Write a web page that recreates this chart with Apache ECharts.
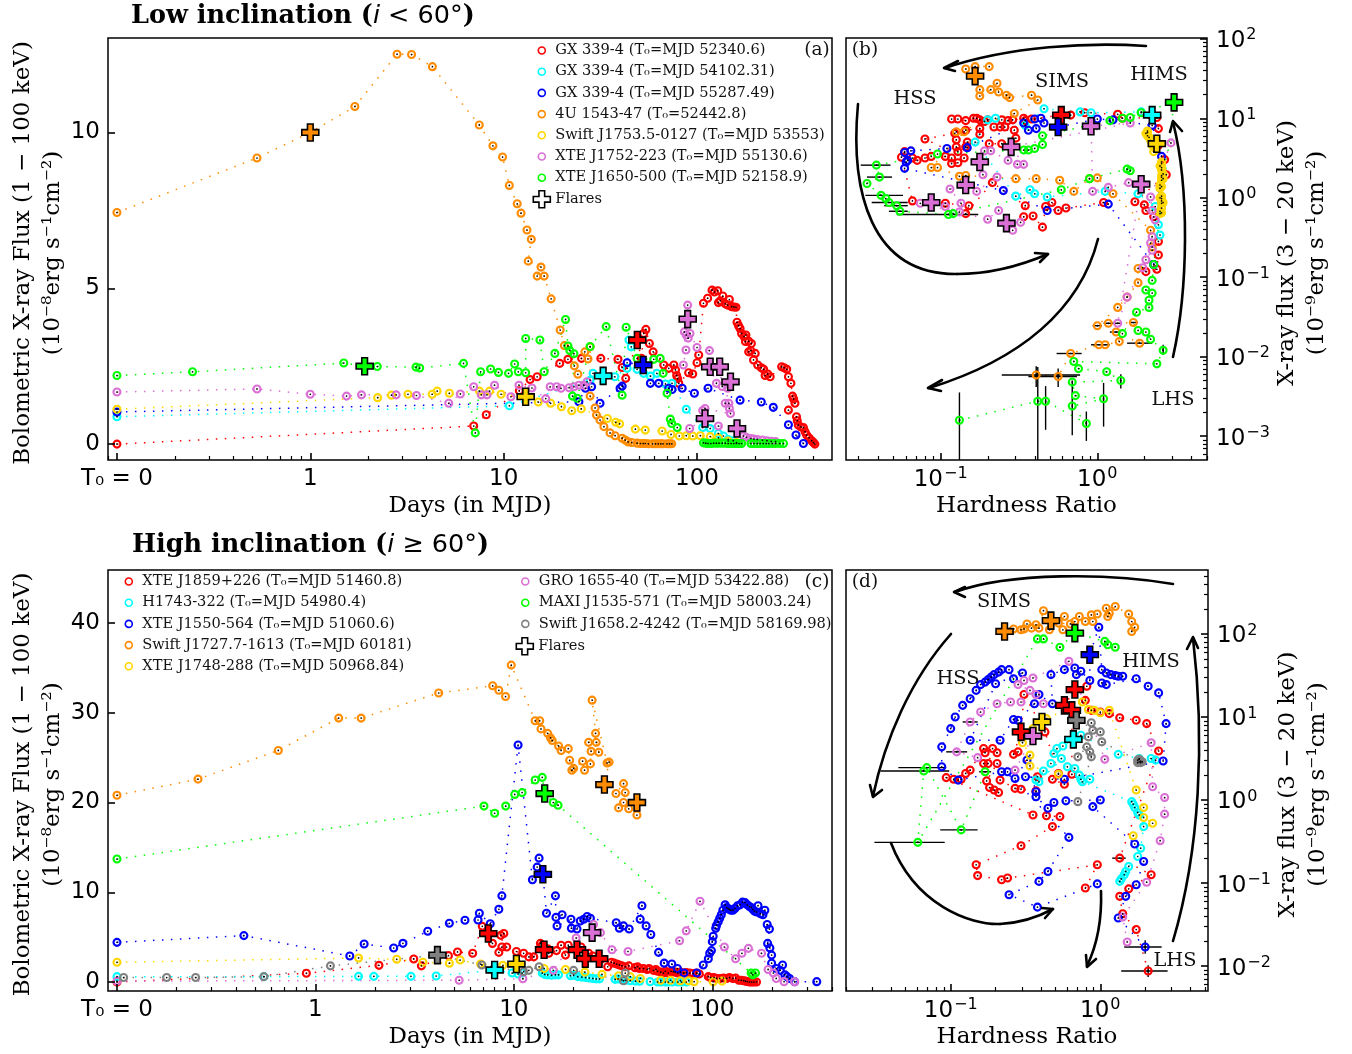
<!DOCTYPE html>
<html><head><meta charset="utf-8">
<style>html,body{margin:0;padding:0;background:#fff}#c{width:1352px;height:1054px}</style>
<script src="https://cdn.jsdelivr.net/npm/echarts@6/dist/echarts.min.js"></script>
</head><body><div id="c"></div>
<script>
// ---------- Panel (a): [days since T0, bolometric flux]; T0 is drawn at 0.1
const aRed=[[0.1,0],[7,.58],[8.13,.94],[12.05,1.71],[13.7,2.07],[14.9,2.16],[19.5,2.59],[21.5,2.72],[25.3,2.75],[31.8,2.75],[39,2.72],[41,2.46],[42.8,2.11],[49.1,3.34],[51.6,2.75],[53,3.55],[54.4,3.68],[56.7,3.23],[59.3,2.96],[67.3,2.54],[71.4,2.43],[75.9,2.54],[77.4,2.38],[78.5,2.2],[79.4,2.1],[80.5,1.95],[90.5,2.29],[95,2.25],[100,2.61],[102,2.86],[108,4.52],[113.5,4.68],[119.6,4.94],[123,4.88],[128,4.92],[129,4.54],[132,4.6],[136,4.75],[140,4.5],[144,4.46],[147,4.64],[151,4.41],[155,4.4],[159,4.39],[161,3.91],[164,3.8],[167,3.71],[170,3.55],[175,3.45],[179,3.5],[178,3.29],[185,3.3],[191,3.23],[185,2.96],[190,3],[200,2.91],[196,2.7],[206,2.54],[215,2.45],[221,2.4],[225,2.2],[232,2.25],[239,2.16],[274,2.48],[282,2.45],[291,2.4],[297,2.16],[306,1.95],[312,1.54],[316,1.45],[321,1.31],[297,1.09],[327,.88],[330,.75],[334,.61],[345,.55],[355,.53],[362,.4],[369,.29],[380,.2],[392,.11],[400,.05],[407,0]];
const aRedFlares=[[49.1,3.34]];
const aCyan=[[0.1,.88],[10.7,1.23],[28,2.05],[29,2.27],[32.7,2.19],[37.6,2.16],[43.5,2.43],[44.5,3.34],[45.7,3.12],[49,2.4],[53,2.27],[57.5,2.18],[62,2.27],[68.7,1.93],[74.3,1.95],[88,1.12],[107,.53],[117,.5],[129,.34],[137,.26],[145,.15],[154,.11]];
const aCyanFlares=[[32.7,2.19]];
const aBlue=[[0.1,1.03],[24.5,1.36],[26.5,1.79],[28.5,1.84],[31.5,1.31],[40,1.79],[41,1.86],[43.5,2.61],[52.7,2.54],[57.4,1.95],[63.4,1.95],[71.4,1.79],[74.3,1.75],[83.8,1.79],[96.9,1.63],[114,1.79],[167,1.41],[215,1.35],[248,1.18],[297,.62],[325,.29],[355,.02]];
const aBlueFlares=[[52.7,2.54]];
const aOrange=[[0.1,7.43],[.53,9.18],[1,10],[1.7,10.83],[2.81,12.51],[3.34,12.5],[4.28,12.11],[7.48,10.24],[8.8,9.57],[9.87,9.21],[10.7,8.3],[11.75,7.71],[12.3,7.41],[13.2,6.87],[13.9,6.57],[13.4,5.87],[15.6,5.68],[14.9,5.39],[16.2,5.39],[17.6,4.66],[19.6,3.66],[20.6,3.16],[23.2,2.51],[24.2,2.24],[26.3,2.96],[27.3,2.73],[28,3.12],[28,1.54],[29.7,1.16],[30.2,.93],[31.5,.77],[33,.56],[35.5,.36],[37.7,.27],[41,.19],[42.5,.13],[44,.07],[46,.05],[49,.03],[51,.02],[52.7,.02],[54,.02],[56,.01],[59,.01],[61,.01],[63,.01],[65,.01],[66.7,.01],[70,.01],[72,.01],[74,.01]];
const aOrangeFlares=[[1,10]];
const aGold=[[0.1,1.12],[2.23,1.49],[2.63,1.57],[3.2,1.6],[4.27,1.6],[4.53,1.7],[5.24,1.63],[7.5,1.7],[8.46,1.7],[9.7,1.6],[13,1.52],[15.1,1.35],[17.5,1.31],[19.9,1.2],[22.5,1.07],[25.2,1.13],[34.4,.82],[38,.7],[39.8,.65],[48,.48],[54,.45],[66,.42],[73.4,.31],[81,.26],[88,.27],[95,.26],[104,.27],[117,.24],[129,.2],[145,.1],[160,.05]];
const aGoldFlares=[[13,1.52]];
const aOrchid=[[0.1,1.67],[.53,1.77],[1,1.6],[1.54,1.54],[1.84,1.58],[2.78,1.58],[3.54,1.56],[5.2,1.31],[5.97,1.61],[7,1.84],[7.66,1.58],[8.2,1.58],[8.97,1.89],[10.9,1.52],[12,1.89],[14,1.8],[16.5,1.46],[17.4,1.84],[18.8,1.84],[19.8,1.79],[21.8,1.81],[23.1,1.84],[24.5,1.89],[26,1.89],[27,2],[85,2.54],[87.7,3.02],[86,3.6],[88,3.5],[89.5,4.46],[89.5,4.01],[90,3.4],[92,3.55],[100,3.1],[116,3],[117,2.48],[126,1.95],[131,2.48],[135,1.85],[144,1.79],[149,2],[140,1.31],[146,1.31],[147,1.15],[149,.98],[110,1.14],[107,1.08],[110,.82],[91.6,.5],[129,.58],[161,.5],[174,.26],[180,.22],[190,.18],[197,.16],[205,.15],[218,.13],[230,.11],[242,.09],[255,.08]];
const aOrchidFlares=[[89.5,4.01],[117,2.48],[131,2.48],[149,2],[110,.82],[161,.5]];
const aLime=[[0.1,2.2],[.246,2.32],[1.49,2.6],[1.91,2.5],[2.22,2.49],[3.52,2.47],[3.68,2.44],[6.2,2.59],[7.13,.36],[7.6,2.32],[8.56,2.41],[9.4,2.3],[10.6,2.27],[11.4,2.57],[11.9,2.32],[13,2.29],[13,3.39],[15.4,3.34],[16.2,2.32],[18.4,2.91],[20.9,4],[21.5,3.15],[22,3],[23.1,2.9],[22.7,1.54],[24,1.47],[28,3.13],[33.9,3.77],[41,1.57],[43,3.75],[49,2.75],[59.7,2.72],[64.5,2.75],[66.8,2.27],[70,1.63],[72.8,.8],[74,.66],[79,.53],[108,.04],[111,.03],[114,.02],[118,.02],[122,.03],[126,.03],[130,.03],[135,.03],[140,.03],[145,.02],[150,.02],[155,.02],[160,.02],[165,.02],[170,.02],[190,.02],[197,.02],[205,.02],[212,.02],[220,.02],[228,.02],[235,.02],[245,.02],[255,.02],[268,.02],[280,.02]];
const aLimeFlares=[[1.91,2.5]];

// ---------- Panel (b): [log10 hardness ratio, log10 X-ray flux]
const bRed=[[.31,-.93],[.38,-.9],[.39,-.72],[.39,-.55],[.36,-.24],[.31,-.16],[.3,-.09],[.24,-.05],[.44,.29],[.43,.48],[.39,.66],[.39,.87],[.38,1.01],[.16,1],[.13,1.05],[-.08,1.07],[-.17,1.04],[-.23,1.04],[-.42,.99],[-.46,.97],[-.47,1],[-.54,.98],[-.57,.97],[-.61,.98],[-.7,.98],[-.72,.96],[-.75,.98],[-.77,1],[-.79,1],[-.84,.97],[-.89,.99],[-.93,.99],[-.84,.85],[-.75,.87],[-.75,.8],[-.66,.89],[-.62,.89],[-.59,.89],[-.53,.85],[-.52,.75],[-.61,.68],[-.69,.68],[-.83,.7],[-.84,.64],[-.89,.58],[-.9,.64],[-.9,.73],[-.91,.81],[-1.1,.74],[-.85,.5],[-.89,.44],[-.93,.43],[-.93,.5],[-.97,.52],[-1.06,.52],[-1.1,.5],[-1.15,.47],[-1.18,.5],[-1.23,.58],[-1.25,.51],[-1.18,-.04],[-.97,-.07],[-.82,-.1],[-.84,-.2],[-.67,.19],[-.46,-.1],[-.47,-.24],[-.41,-.23],[-.35,-.37],[-.33,-.11],[-.29,-.06],[-.25,-.16],[-.2,-.13],[.04,-.06]];
const bRedFlares=[[-.23,1.04]];
const bCyan=[[.35,1.04],[.28,1.08],[-.04,1.07],[-.11,1.08],[-.34,1.12],[-.46,.91],[-.65,1],[-.7,.98],[-.78,.7],[-.52,.02],[-.43,.1],[-.4,.05],[-.32,.01],[.05,.08],[.26,.05],[.37,-.11],[.39,-.34],[.4,-.47]];
const bCyanFlares=[[.35,1.04]];
const bBlue=[[.36,-.84],[.41,.52],[.35,.91],[.1,.98],[0,.99],[-.25,.89],[-.34,.94],[-.36,1],[-.4,.99],[-.39,.87],[-.44,.85],[-.47,.94],[-.83,.63],[-.96,.62],[-1.19,.59],[-1.23,.57],[-1.22,.45],[-1.21,.47],[-1.23,.37],[-.6,.09],[-.32,-.16],[.07,-.08],[.36,-.84]];
const bBlueFlares=[[-.25,.89]];
const bOrange=[[-.39,-2.23],[-.25,-2.25],[-.17,-1.96],[.01,-1.85],[.05,-1.85],[.14,-1.81],[.12,-1.69],[.27,-1.83],[.23,-1.57],[.07,-1.58],[0,-1.61],[.13,-1.38],[.19,-1.25],[.26,-1.07],[.26,-.89],[.35,-.62],[.34,-.41],[.1,.05],[0,.25],[-.05,.24],[-.15,.08],[-.24,.22],[-.39,.24],[-.52,.24],[-.84,.28],[-.88,.27],[-1.02,.38],[-1.06,.38],[-.85,.83],[-.9,.83],[-.53,1.06],[-.38,1.23],[-.42,1.29],[-.56,1.26],[-.58,1.29],[-.63,1.33],[-.64,1.44],[-.68,1.36],[-.75,1.28],[-.75,1.36],[-.78,1.53],[-.69,1.65],[-.78,1.65],[-.84,1.62]];
const bOrangeFlares=[[-.78,1.53]];
const bGold=[[.32,.84],[.31,.81],[.32,.82],[.32,.78],[.33,.76],[.34,.72],[.35,.66],[.37,.62],[.36,.58],[.41,.45],[.41,.43],[.4,.4],[.41,.38],[.41,.35],[.42,.3],[.41,.28],[.41,.26],[.42,.24],[.41,.22],[.4,.16],[.41,.14],[.4,.12],[.41,.02],[.4,.0],[.41,-.01],[.41,-.04],[.42,-.06],[.41,-.07],[.41,-.13],[.4,-.17],[.41,-.19],[.4,-.2]];
const bGoldFlares=[[.38,.68]];
const bOrchid=[[.47,.69],[.34,.01],[.35,-.16],[.37,-.28],[.35,-.49],[.34,-.57],[.35,-.66],[.31,-.78],[.29,-.88],[.19,-1.25],[.13,-1.58],[.28,.17],[.2,.19],[.07,.13],[-.03,.08],[-.04,.9],[.21,.94],[-.55,.64],[-.47,.42],[-.51,.42],[-.57,.47],[-.68,.59],[-.72,.59],[-.75,.45],[-.73,.29],[-.64,.26],[-.77,.08],[-.84,.16],[-.94,.11],[-.87,-.07],[-.88,-.18],[-.97,-.11],[-1.06,-.06],[-1.13,-.07],[-.7,-.27],[-.63,-.16],[-.58,-.32],[-.54,-.41],[-.49,-.31]];
const bOrchidFlares=[[.28,.17],[-.04,.9],[-.55,.64],[-.75,.45],[-.84,.16],[-1.06,-.06],[-.58,-.32]];
const bLime=[[-.88,-2.8],[-.38,-2.56],[-.33,-2.56],[-.07,-2.84],[-.16,-2.62],[.04,-2.53],[-.14,-2.49],[-.16,-2.32],[.15,-2.3],[.06,-2.19],[-.12,-2.15],[-.15,-2.06],[.38,-2.09],[.42,-1.92],[.34,-1.78],[.31,-1.69],[.26,-1.67],[.16,-1.71],[.25,-1.44],[.33,-1.38],[.33,-1.29],[.35,-1.2],[.31,-1.16],[.35,-1.04],[.36,-.84],[.49,1.2],[.28,1.07],[.21,1.01],[.16,1],[.08,.97],[-.35,.78],[-.35,.67],[-.4,.62],[-.44,.6],[-.47,.6],[-1.02,.55],[-1.41,.41],[-1.39,.26],[-1.47,.18],[-1.38,.03],[-1.35,-.01],[-1.33,-.06],[-1.28,-.1],[-1.26,-.17],[-.95,-.21],[-.92,-.2],[-.23,.1],[-.05,.24],[.19,.36],[.21,.34]];
const bLimeFlares=[[.49,1.2]];
// error bars in log10 units: horizontal [lo, hi, y], vertical [x, lo, hi]
const bErrX=[[-1.51,-1.32,.41],[-1.47,-1.31,.26],[-1.48,-1.24,.03],[-1.44,-1.21,-.06],[-1.36,-1.21,-.1],[-1.33,-1.21,-.17],[-1.28,-.76,-.21],[-.61,-.11,-2.23],[-.44,-.13,-2.25],[-.26,-.1,-1.96],[-.03,.03,-1.61],[.04,.15,-1.58],[-.04,.08,-1.85],[.19,.35,-1.83],[.21,.26,-1.57],[.08,.15,-1.69]];
const bErrY=[[-.88,-3.4,-2.45],[-.38,-3.4,-2.13],[-.33,-2.92,-2.37],[-.16,-2.99,-2.3],[-.07,-3.06,-2.69],[.04,-2.88,-2.33],[.15,-2.4,-2.22],[.42,-1.98,-1.85],[-.39,-2.38,-2.12],[-.25,-2.38,-2.15]];

// ---------- Panel (c): [days since T0, bolometric flux]; T0 is drawn at 0.1
const cRed=[[.1,0],[.9,.97],[2.09,1.86],[3.13,2.57],[3.42,1.8],[4.68,2.94],[5.2,3.35],[6.2,3.2],[6.93,6.2],[7.43,5.4],[7.8,4.3],[8.6,5.2],[8.9,5.4],[8.4,3.3],[8.7,3.9],[9.2,3.9],[10.3,3.4],[11.2,3.2],[11.9,2.8],[12.6,2.8],[13.6,4.3],[13.9,4.1],[14.2,3.6],[14.8,3.7],[15,3.2],[16.4,3.5],[17.3,4.1],[18.2,3],[18.8,4.1],[20.8,3.6],[21.8,3.9],[22.9,2.6],[23.8,3.2],[25,2.9],[26.9,2.6],[29.7,1.7],[31,2.2],[32,2.1],[33,2],[34,1.9],[35,1.8],[36.4,1.7],[38,1.8],[40.8,1.6],[42,1.7],[43,1.5],[45,1.5],[47,1.4],[48,1.5],[50.5,1.3],[52,1.4],[53,1.2],[55,1.1],[56.7,1],[58,1.2],[60,1],[62,1.2],[63.7,1.15],[65,1.1],[67,1],[69,1.1],[71.5,1],[74,1.05],[77,1],[80,.95],[83.4,1],[86,.9],[95.5,.6],[98,.5],[102,.5],[105,.4],[109,.4],[114,.45],[118,.4],[122,.5],[127,.4],[131,.45],[136,.2],[140,.2],[144,.15],[147,.1],[150,.05],[154,0],[158,0],[162,0],[167,0]];
const cRedFlares=[[7.43,5.4],[14.2,3.6],[20.8,3.6],[22.9,2.6],[26.9,2.6]];
const cCyan=[[.1,.6],[.55,.6],[1.65,.63],[1.97,.63],[3.03,.63],[4.06,.67],[8,1.34],[9.8,1],[10.5,.9],[11,1],[13.9,1],[14.3,.85],[14.8,.8],[15.5,.75],[16.2,.8],[16.8,.8],[19.3,.7],[20,.75],[21,.6],[22,.55],[23,.5],[24,.45],[25,.4],[26,.35],[27,.35],[32.4,.3],[33.5,.35],[35,.25],[36.5,.2],[38.6,.15],[41,.1],[43,.08],[48.6,.04],[53,0],[55,0],[58,0],[60,0],[63,0],[67,0],[70,0],[74,0]];
const cCyanFlares=[[8,1.34]];
const cBlue=[[.1,4.42],[.436,5.17],[1.49,2.9],[1.76,4.24],[2.48,3.79],[2.76,4.31],[3.68,5.65],[4.73,6.54],[5.67,6.88],[6.6,6.91],[6.7,7.66],[7.6,6.5],[8.4,8.1],[8.7,9.6],[10.5,26.4],[12.4,11.4],[13.1,12.8],[13.4,13.8],[14,12],[14.6,7.66],[16.2,9.6],[16.3,7.2],[17.5,7.5],[16.5,6.25],[19.4,7],[19.5,6],[20.8,5.9],[21.6,6.8],[22.5,7],[23.4,7.3],[24.3,7.1],[32.8,6.6],[34,6],[35.7,6.25],[38.1,5.9],[44.2,8.5],[43.3,7],[46.4,6.25],[49,5.3],[53.6,3.3],[57.2,2.1],[62.5,2],[66.7,1.5],[72,1],[83.4,1],[90,1.9],[95.5,2.6],[97,3.2],[99,3.5],[100,4.5],[101,5.1],[104,6],[105,6.3],[107,6.7],[109,7.1],[111,7.5],[113,8],[116,8.6],[118,8.3],[120,8.2],[122,8.1],[124,8],[127,8],[130,8.2],[134,8.5],[138,8.6],[142,8.9],[146,8.85],[150,8.6],[154,8.4],[157,8.3],[160,8.1],[163,7.9],[167,7.8],[170,8.5],[175,7.6],[180,7.5],[184,8],[189,6.4],[194,5.9],[190,4.3],[195,3.8],[199,3],[199,2.1],[210,1.5],[220,1.3],[226,1.9],[232,.8],[238,.6],[245,.4],[260,.04],[336,.04]];
const cBlueFlares=[[14,12]];
const cOrange=[[.1,20.8],[.256,22.6],[.65,25.8],[1.31,29.4],[1.7,29.4],[4.18,32.2],[7.82,33],[8.4,32.5],[9.08,31.8],[9.7,35.3],[12.8,29.1],[13.5,29.1],[13.7,28.2],[14.8,27.7],[15.3,27.2],[15.6,26.9],[16.8,26.3],[17.3,25.8],[18.8,26],[19.1,24.7],[19.6,23.6],[20,23.8],[22.2,24.6],[22.7,23.6],[24.3,24.3],[24.5,25.7],[23.8,26.7],[26,26.7],[26.8,25.6],[25.8,27.7],[24.8,31.4],[29.5,24.4],[30.2,24.5],[28.6,22],[32.7,21],[35.7,22.1],[36.4,21.1],[33.7,19.4],[35.7,20],[37.9,19.3],[41.7,20],[41.7,18.6]];
const cOrangeFlares=[[28.6,22],[41.7,20]];
const cGold=[[.1,2.2],[1.65,2.68],[2.57,2.53],[3.48,2.2],[4.73,2.1],[5.36,2.45],[6.8,2],[8.8,1.86],[10.3,2],[14.2,1.5],[18.2,1.4],[22.8,1.1],[27.8,.85],[33.7,.7],[38.6,.6],[43.4,.4],[55,.2],[61.6,.2],[69,.15],[76,.15],[81,.04],[101,.04],[112,.1]];
const cGoldFlares=[[10.3,2]];
const cOrchid=[[.1,.1],[5.3,.2],[11.1,.37],[15.8,1.3],[20.6,4.9],[25.2,6.4],[24.8,5.5],[27.3,5.5],[31.2,3.6],[37.6,3.4],[68.4,4.6],[73.9,5.7],[86.7,9],[115,3.9],[131,2.6],[141,3.2],[152,3.75],[177,3.2],[191,1.4],[203,1],[210,.4],[230,.04],[260,.04]];
const cOrchidFlares=[[24.8,5.5]];
const cLime=[[.1,13.7],[7.07,19.6],[8,18.8],[9.1,19.6],[10.1,20.9],[11,21.1],[12.8,22.5],[13.9,22.8],[14.3,21],[15.8,20],[16.7,19.7],[157,1],[160,.8],[165,1]];
const cLimeFlares=[[14.3,21]];
const cGrey=[[.108,.5],[.178,.5],[.249,.5],[.55,.6],[1.19,1.8],[4.12,3],[6.9,1.9],[11.2,1.15],[11.9,1.3],[13.4,1.7],[20,1.3],[35.7,.15],[36.4,1]];
const cGreyFlares=[[4.12,3]];

// ---------- Panel (d): [log10 hardness ratio, log10 X-ray flux]
const dRed=[[.32,-2.06],[.24,-1.56],[.15,-1.37],[.13,-1.16],[.19,-1.07],[.34,-.9],[.13,-.7],[.39,.59],[.31,.92],[.24,.96],[.13,.99],[.06,1.04],[0,1.06],[-.06,1.08],[-.1,1.2],[-.09,1.37],[-.17,1.33],[-.24,1.14],[-.19,1.08],[-.19,.31],[-.24,.19],[-.32,.25],[-.28,.32],[-.37,.82],[-.51,1.27],[-.53,.82],[-.58,.55],[-.55,.58],[-.42,.28],[-.43,.11],[-.53,.13],[-.57,.14],[-.67,.24],[-.68,.09],[-.71,.12],[-.74,.15],[-.76,.23],[-.69,.44],[-.75,.44],[-.78,.44],[-.69,.57],[-.72,.62],[-.77,.57],[-.78,.62],[-.87,.36],[-.9,.32],[-.93,.25],[-.98,.25],[-1.03,.27],[-.45,-.18],[-.36,-.19],[-.27,-.2],[-.32,-.32],[-.53,-.55],[-.83,-.78],[-.82,-.91],[-.66,-.96],[-.62,-.94],[-.02,-.78],[-.1,-1.06]];
const dRedFlares=[[-.17,1.33],[-.24,1.14],[-.19,1.08],[-.53,.82]];
const dCyan=[[.13,-.98],[.14,-.95],[.16,-.9],[.17,-.86],[.19,-.8],[.25,-.68],[.27,-.58],[.29,-.32],[.26,-.18],[.25,-.15],[.23,-.09],[.22,-.05],[.21,-.02],[-.12,.22],[-.13,.25],[-.14,.3],[-.07,.25],[-.17,.38],[-.22,.4],[-.33,.44],[-.38,.35],[-.43,.24],[-.41,.22],[-.26,.5],[-.31,.56],[-.29,.62],[-.25,.65],[-.18,.73],[-.13,.78],[.12,.55],[.26,.5],[.34,.5],[.37,.48]];
const dCyanFlares=[[-.18,.73]];
const dBlue=[[.3,-1.77],[.12,-1.42],[.17,-1.16],[.24,-1.02],[.29,-.74],[.23,-.53],[-.05,-.08],[0,0],[-.23,-.01],[-.31,-.03],[-.35,-.1],[-.43,.04],[-.43,.1],[-.49,.48],[-.57,.26],[-.66,.34],[-.95,.24],[-1.06,.4],[-1.06,.64],[-1,.86],[-.97,1],[-.92,1.14],[-.87,1.22],[-.83,1.32],[-.8,1.39],[-.77,1.42],[-.75,1.45],[-.73,1.48],[-.71,1.51],[-.68,1.54],[-.66,1.57],[-.61,1.57],[-.58,1.46],[-.52,1.53],[-.7,1.4],[-.87,.72],[-.67,.72],[-.58,.97],[-.55,.96],[-.44,1.16],[-.41,1.27],[-.32,1.16],[-.33,1.51],[-.24,1.57],[-.17,1.59],[-.16,1.51],[-.13,1.55],[-.07,1.44],[-.07,1.75],[-.01,2.08],[.01,1.57],[.04,1.53],[.07,1.51],[.1,1.5],[.12,1.49],[.15,1.49],[.01,1.41],[.04,1.39],[.24,1.46],[.32,1.37],[.39,1.29],[.44,.92],[.42,.47],[-.24,.25],[-.5,.28],[-.62,.34],[-.21,-.45],[-.35,-.86],[-.41,-.98],[-.61,-1.14],[-.42,-1.29],[-.02,-1.01]];
const dBlueFlares=[[-.07,1.75]];
const dOrange=[[-.64,2.03],[-.58,2.06],[-.53,2.05],[-.51,2.06],[-.49,2.12],[-.46,2.07],[-.43,2.11],[-.41,2.07],[-.38,2.28],[-.33,2.16],[-.34,2.05],[-.28,2.13],[-.24,2.21],[-.25,2.05],[-.2,2.12],[-.17,2.15],[-.14,2.21],[-.1,2.15],[-.06,2.23],[-.05,2.15],[-.02,2.24],[.04,2.31],[.05,2.21],[.06,2.25],[.1,2.33],[.19,2.24],[.21,2.15],[.23,2.08],[.21,2.03]];
const dOrangeFlares=[[-.64,2.03],[-.33,2.16]];
const dGold=[[.22,-.43],[.35,-.28],[.29,-.21],[.29,-.09],[.24,.12],[.06,1.08],[0,1.05],[-.04,1.08],[-.08,1.09],[-.12,1.18],[-.36,.98],[-.39,.94],[-.45,.86],[-.52,.8],[-.52,.69],[-.47,.54],[-.47,.41],[-.28,.31]];
const dGoldFlares=[[-.39,.94]];
const dOrchid=[[.18,-1.71],[.15,-1.41],[.31,-.99],[.4,-.49],[.43,-.17],[.43,.03],[.35,.16],[.34,.69],[.03,.49],[-.21,1.67],[-.45,1.47],[-.51,1.44],[-.55,1.39],[-.47,1.32],[-.43,1.27],[-.38,1.16],[-.53,1.18],[-.6,1.18],[-.69,1.16],[-.8,1.06],[-.87,.94],[-.96,.58],[-.82,.51],[-.57,.36],[-.45,.77]];
const dOrchidFlares=[[-.45,.77]];
const dLime=[[.1,1.84],[.05,1.87],[.03,1.91],[-.17,2.01],[-.27,1.84],[-.38,1.94],[-.42,1.94],[-1.22,-.51],[-1.18,.35],[-1.16,.39],[-.93,-.36],[-.77,.34]];
const dLimeFlares=[[-.17,2.01]];
const dGrey=[[-.15,-.02],[-.06,.52],[-.07,.58],[-.09,.64],[-.15,.52],[-.08,.76],[-.05,.84],[-.06,.93],[-.16,.96],[0,.82],[.01,.7],[.25,.48],[.26,.46],[.27,.47],[.25,.45],[.26,.49],[.28,.46],[.27,.45]];
const dGreyFlares=[[-.16,.96]];
const dErrX=[[-1.07,-.82,-.36],[-1.51,-1.04,-.51],[-1.47,-1.01,.35],[-1.35,-1.03,.39],[-.81,-.73,.34],[.14,.45,-2.06],[.16,.41,-1.77],[.08,.17,-.7],[-.92,-.82,.94],[-1.03,-.89,.58]];
const dErrY=[[.3,-1.85,-1.69],[.32,-2.13,-1.99]];

// ---------- Labels and tick values
const legendA=['GX 339-4 (T₀=MJD 52340.6)','GX 339-4 (T₀=MJD 54102.31)','GX 339-4 (T₀=MJD 55287.49)','4U 1543-47 (T₀=52442.8)','Swift J1753.5-0127 (T₀=MJD 53553)','XTE J1752-223 (T₀=MJD 55130.6)','XTE J1650-500 (T₀=MJD 52158.9)'];
const legendC1=['XTE J1859+226 (T₀=MJD 51460.8)','H1743-322 (T₀=MJD 54980.4)','XTE J1550-564 (T₀=MJD 51060.6)','Swift J1727.7-1613 (T₀=MJD 60181)','XTE J1748-288 (T₀=MJD 50968.84)'];
const legendC2=['GRO 1655-40 (T₀=MJD 53422.88)','MAXI J1535-571 (T₀=MJD 58003.24)','Swift J1658.2-4242 (T₀=MJD 58169.98)'];
const yTicksA=[0,5,10], yTicksC=[0,10,20,30,40];
const daysTicks=[0.1,1,10,100];

const C={red:'#ff0000',cyan:'#00ffff',blue:'#0000ff',orange:'#ff8c00',gold:'#ffd700',orchid:'#da70d6',lime:'#00ff00',grey:'#808080'};
const SERIF='"DejaVu Serif"',SANS='"DejaVu Sans"';
const PLUS='path://M6 0H12V6H18V12H12V18H6V12H0V6H6Z';
const unlog=a=>a.map(p=>[10**p[0],10**p[1]]);

const panels=[
 {rect:[107,38,725,422],xr:[.0899,499],yr:[-.51,13.03],sources:[
  [legendA[0],C.red,aRed,aRedFlares],[legendA[1],C.cyan,aCyan,aCyanFlares],[legendA[2],C.blue,aBlue,aBlueFlares],[legendA[3],C.orange,aOrange,aOrangeFlares],[legendA[4],C.gold,aGold,aGoldFlares],[legendA[5],C.orchid,aOrchid,aOrchidFlares],[legendA[6],C.lime,aLime,aLimeFlares]]},
 {rect:[846,38,361,422],xr:[10**-1.604,10**.70],yr:[10**-3.30,10**2.01],log:true,ex:bErrX,ey:bErrY,sources:[
  ['bRed',C.red,bRed,bRedFlares],['bCyan',C.cyan,bCyan,bCyanFlares],['bBlue',C.blue,bBlue,bBlueFlares],['bOrange',C.orange,bOrange,bOrangeFlares],['bGold',C.gold,bGold,bGoldFlares],['bOrchid',C.orchid,bOrchid,bOrchidFlares],['bLime',C.lime,bLime,bLimeFlares]]},
 {rect:[107,570,725,421],xr:[.0901,401],yr:[-1,45.9],sources:[
  [legendC1[0],C.red,cRed,cRedFlares],[legendC1[1],C.cyan,cCyan,cCyanFlares],[legendC1[2],C.blue,cBlue,cBlueFlares],[legendC1[3],C.orange,cOrange,cOrangeFlares],[legendC1[4],C.gold,cGold,cGoldFlares],[legendC2[0],C.orchid,cOrchid,cOrchidFlares],[legendC2[1],C.lime,cLime,cLimeFlares],[legendC2[2],C.grey,cGrey,cGreyFlares]]},
 {rect:[846,570,362,421],xr:[10**-1.70,10**.72],yr:[10**-2.30,10**2.77],log:true,ex:dErrX,ey:dErrY,sources:[
  ['dRed',C.red,dRed,dRedFlares],['dCyan',C.cyan,dCyan,dCyanFlares],['dBlue',C.blue,dBlue,dBlueFlares],['dOrange',C.orange,dOrange,dOrangeFlares],['dGold',C.gold,dGold,dGoldFlares],['dOrchid',C.orchid,dOrchid,dOrchidFlares],['dLime',C.lime,dLime,dLimeFlares],['dGrey',C.grey,dGrey,dGreyFlares]]}
];

function minors(lo,hi){const r=[];for(let e=Math.floor(Math.log10(lo));e<=Math.ceil(Math.log10(hi));e++)for(let k=2;k<10;k++){const v=k*10**e;if(v>=lo&&v<=hi)r.push(v);}return r;}
function majors(lo,hi){const r=[];for(let e=Math.ceil(Math.log10(lo));e<=Math.floor(Math.log10(hi));e++)r.push(10**e);return r;}
const expLabel=v=>{const e=Math.round(Math.log10(v));return '{a|10}{s|'+String(e).replace('-','−')+'}';};
const expRich={a:{fontFamily:SANS,fontSize:23,color:'#000'},s:{fontFamily:SANS,fontSize:16,color:'#000',padding:[0,0,12,1]}};
const daysLabel=v=>{const e=Math.round(Math.log10(v));return e===-1?'T₀ = 0':String(10**e);};

const nameStyle={fontFamily:SERIF,fontSize:23,lineHeight:30,color:'#000'};
const nameStyleY=Object.assign({},nameStyle,{padding:[0,8,0,0]});
function axis(gridIndex,pos,range,isLog,ticks,opts){
 const base={type:isLog?'log':'value',gridIndex,position:pos,min:range[0],max:range[1],z:30,nameMoveOverlap:false,splitLine:{show:false},axisLine:{show:false,onZero:false},minorTick:{show:false},
   axisTick:{show:true,inside:true,length:7,lineStyle:{color:'#000',width:1.6},customValues:ticks},
   axisLabel:{show:true,customValues:ticks,margin:8,color:'#000',fontFamily:SANS,fontSize:23,hideOverlap:false}};
 const lab=opts&&opts.axisLabel?Object.assign({},base.axisLabel,opts.axisLabel):base.axisLabel;
 return Object.assign(base,opts||{},{axisLabel:lab});
}
function minorAxis(gridIndex,pos,range,isLog,ticks){
 return {type:isLog?'log':'value',gridIndex,position:pos,min:range[0],max:range[1],z:30,splitLine:{show:false},axisLine:{show:false,onZero:false},axisLabel:{show:false},
   axisTick:{show:ticks.length>0,inside:true,length:4,lineStyle:{color:'#000',width:1.2},customValues:ticks}};
}
const xAxis=[],yAxis=[],grid=[],series=[];
const DAYS='Days (in MJD)',HR='Hardness Ratio';
const BOL='Bolometric X-ray Flux (1 − 100 keV)\n(10⁻⁸erg s⁻¹cm⁻²)',XF1='X-ray flux (3 − 20 keV)\n(10⁻⁹erg s⁻¹cm⁻²)';
panels.forEach((p,i)=>{
 const [l,t,w,h]=p.rect;
 grid.push({left:l,top:t,width:w,height:h,show:true,borderColor:'#000',borderWidth:1.5});
 const xMaj=p.log?majors(p.xr[0],p.xr[1]):daysTicks;
 xAxis.push(axis(i,'bottom',p.xr,true,xMaj,{name:p.log?HR:DAYS,nameLocation:'middle',nameGap:31,nameTextStyle:nameStyle,
    axisLabel:p.log?{formatter:expLabel,rich:expRich,margin:6}:{formatter:daysLabel}}));
 xAxis.push(minorAxis(i,'bottom',p.xr,true,minors(p.xr[0],p.xr[1])));
 if(p.log){
  yAxis.push(axis(i,'right',p.yr,true,majors(p.yr[0],p.yr[1]),{name:XF1,nameLocation:'middle',nameRotate:90,nameGap:65,nameTextStyle:nameStyleY,
    axisLabel:{formatter:expLabel,rich:expRich,margin:9,padding:[5,0,0,0]}}));
  yAxis.push(minorAxis(i,'right',p.yr,true,minors(p.yr[0],p.yr[1])));
 }else{
  yAxis.push(axis(i,'left',p.yr,false,i===0?yTicksA:yTicksC,{name:BOL,nameLocation:'middle',nameRotate:90,nameGap:40,nameTextStyle:nameStyleY,axisLabel:{padding:[9,0,0,0]}}));
  yAxis.push(minorAxis(i,'left',p.yr,false,[]));
 }
 const ax={xAxisIndex:2*i,yAxisIndex:2*i};
 const conv=p.log?unlog:(a=>a);
 const common=Object.assign({silent:true,animation:false,clip:true},ax);
 if(p.log){
  const barsX=p.ex.map(e=>[10**e[0],10**e[1],10**e[2]]);
  const barsY=p.ey.map(e=>[10**e[0],10**e[1],10**e[2]]);
  const seg=(a,b)=>({type:'line',shape:{x1:a[0],y1:a[1],x2:b[0],y2:b[1]},style:{stroke:'#000',lineWidth:1.4}});
  series.push(Object.assign({},common,{type:'custom',z:3,data:barsX,encode:{x:[0,1],y:2},
    renderItem:(pr,api)=>seg(api.coord([api.value(0),api.value(2)]),api.coord([api.value(1),api.value(2)]))}));
  series.push(Object.assign({},common,{type:'custom',z:3,data:barsY,encode:{x:0,y:[1,2]},
    renderItem:(pr,api)=>seg(api.coord([api.value(0),api.value(1)]),api.coord([api.value(0),api.value(2)]))}));
 }
 p.sources.forEach(([name,color,raw,fl],k)=>{
  const d=conv(raw);
  series.push(Object.assign({},common,{type:'line',data:d,showSymbol:false,symbol:'none',z:2,lineStyle:{color,width:1.5,type:[1.5,7.5]}}));
  series.push(Object.assign({},common,{type:'scatter',name,data:d,symbol:'circle',symbolSize:7,z:4+k*0.01,
    itemStyle:{color:'rgba(255,255,255,0)',borderColor:color,borderWidth:2.1,opacity:1}}));
  series.push(Object.assign({},common,{type:'scatter',data:d,symbol:'circle',symbolSize:1.7,z:5,itemStyle:{color:'#000',opacity:1}}));
 });
 p.sources.forEach(([name,color,raw,fl])=>{
  series.push(Object.assign({},common,{type:'scatter',name:'Flares',data:conv(fl),symbol:PLUS,symbolSize:17,z:6,
    itemStyle:{color,borderColor:'#000',borderWidth:1.6,opacity:1}}));
 });
});

const legText={fontFamily:SERIF,fontSize:14.6,color:'#111',padding:[0,0,0,5]};
const legItem=(names,cols)=>names.map((n,i)=>({name:n,icon:'circle',itemStyle:{color:'rgba(255,255,255,0)',borderColor:cols[i],borderWidth:1.6}}));
const flareItem=[{name:'Flares',icon:PLUS,itemStyle:{color:'#fff',borderColor:'#000',borderWidth:1.6}}];
const legBase={orient:'vertical',itemWidth:7,itemHeight:7,itemGap:6.2,selectedMode:false,textStyle:legText,padding:0,z:10};
const flareBase={orient:'vertical',itemWidth:17,itemHeight:17,selectedMode:false,padding:0,z:10,textStyle:Object.assign({},legText,{padding:[0,0,0,0]})};
const legend=[
 Object.assign({},legBase,{left:537.5,top:43,data:legItem(legendA,[C.red,C.cyan,C.blue,C.orange,C.gold,C.orchid,C.lime])}),
 Object.assign({},flareBase,{left:532.5,top:190,data:flareItem}),
 Object.assign({},legBase,{left:124.5,top:574,data:legItem(legendC1,[C.red,C.cyan,C.blue,C.orange,C.gold])}),
 Object.assign({},legBase,{left:521,top:574,data:legItem(legendC2,[C.orchid,C.lime,C.grey])}),
 Object.assign({},flareBase,{left:515.5,top:637,data:flareItem})
];

const titleRich={b:{fontFamily:SERIF,fontWeight:'bold',fontSize:25.5,color:'#000'},i:{fontFamily:SANS,fontStyle:'italic',fontWeight:'normal',fontSize:25.5,color:'#000'},n:{fontFamily:SANS,fontWeight:'normal',fontSize:25.5,color:'#000'}};
const title=[
 {text:'{b|Low inclination (}{i|i}{n| < 60°}{b|)}',left:131,top:3,padding:0,textStyle:{rich:titleRich}},
 {text:'{b|High inclination (}{i|i}{n| ≥ 60°}{b|)}',left:132,top:532,padding:0,textStyle:{rich:titleRich}}
];

function txt(t,x,y,size){return {type:'text',x,y:y+1.5,z:20,silent:true,style:{text:t,fontFamily:SERIF,fontSize:size,fill:'#111',align:'center',verticalAlign:'middle'}};}
const stroke={stroke:'#000',lineWidth:2.6,fill:'none',lineCap:'round',lineJoin:'round'};
const bez=(a,b,c,d)=>({type:'bezierCurve',z:20,silent:true,shape:{x1:a[0],y1:a[1],cpx1:b[0],cpy1:b[1],cpx2:c[0],cpy2:c[1],x2:d[0],y2:d[1]},style:stroke});
const head=(w1,tip,w2)=>({type:'polyline',z:20,silent:true,shape:{points:[w1,tip,w2]},style:stroke});
const graphic=[
 txt('(a)',817,49,18.5),txt('(b)',865,49,18.5),txt('(c)',817,581,18.5),txt('(d)',865,581,18.5),
 txt('HSS',915,97,19.4),txt('SIMS',1062,80,19.4),txt('HIMS',1159,73,19.4),txt('LHS',1173,398,19.4),
 txt('SIMS',1004,600,19.4),txt('HSS',958,677,19.4),txt('HIMS',1151,660,19.4),txt('LHS',1175,959,19.4),
 bez([1146,46],[1090,42],[1010,46],[945,68]),head([958,61],[944,68],[955,71]),
 bez([858,104],[850,190],[870,275],[957,274]),bez([957,274],[990,274],[1020,266],[1048,254]),head([1035,253],[1048,254],[1040,262]),
 bez([1098,239],[1080,310],[1020,360],[929,388]),head([942,380],[928,388],[941,391]),
 bez([1173,357],[1188,290],[1190,190],[1173,122]),head([1170,132],[1173,121],[1182,131]),
 bez([1173,584],[1110,573],[1010,572],[955,592]),head([965,587],[954,592],[965,597]),
 bez([951,634],[910,680],[885,740],[873,796]),head([870,785],[873,797],[882,790]),
 bez([891,843],[915,905],[970,925],[1000,924]),bez([1000,924],[1020,923],[1040,916],[1053,909]),head([1042,908],[1053,909],[1045,918]),
 bez([1101,891],[1102,920],[1097,945],[1087,966]),head([1086,955],[1087,967],[1096,959]),
 bez([1173,941],[1200,850],[1205,740],[1193,638]),head([1187,649],[1193,637],[1198,648])
];

const chart=echarts.init(document.getElementById('c'),null,{renderer:'canvas'});
chart.setOption({animation:false,backgroundColor:'#fff',title,legend,grid,xAxis,yAxis,series,graphic});
</script></body></html>
